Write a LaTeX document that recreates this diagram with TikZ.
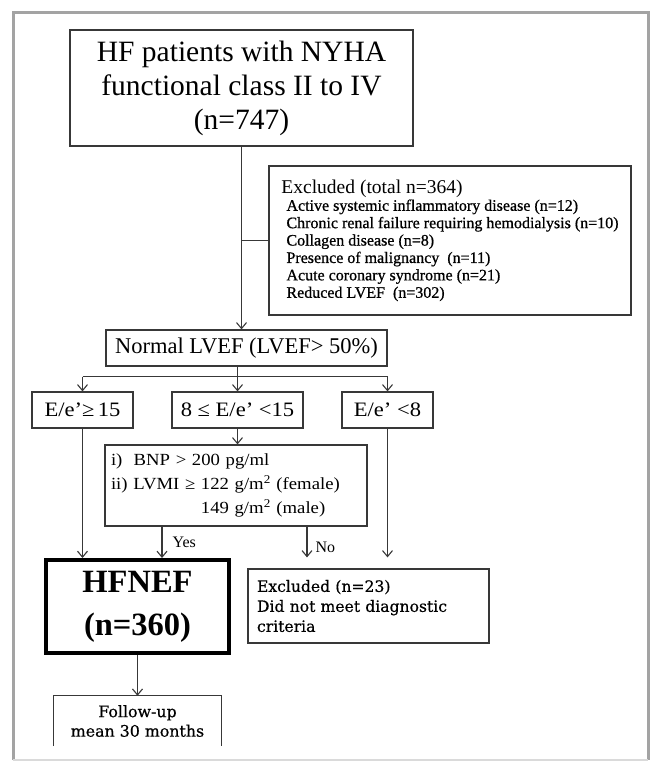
\documentclass[tikz,border=0pt]{standalone}
\usepackage{fontspec}
\setmainfont{Liberation Serif}
\newfontfamily\cent[FakeBold=0.5]{DejaVu Serif}
\newfontfamily\tmsB[FakeStretch=1.1]{Liberation Serif}
\newfontfamily\tmsE[FakeBold=0.8]{Liberation Serif}
\usetikzlibrary{arrows.meta}
\definecolor{linec}{HTML}{383838}
\definecolor{framec}{HTML}{A3A3A3}
\begin{document}
\begin{tikzpicture}[x=1pt,y=-1pt,
  box/.style={draw=linec, line width=1.2pt, rectangle, inner sep=0pt, align=center},
  arr/.style={draw=linec, line width=1.1pt, -{Straight Barb[length=6pt,width=10pt,line width=1.1pt]}},
  ln/.style={draw=linec, line width=1.1pt},
  lbl/.style={font=\fontsize{16}{18}\selectfont, inner sep=0pt, anchor=west, xshift=10pt}]
\useasboundingbox (0,0) rectangle (651,762);
\draw[framec, line width=3pt] (13,760) -- (13,13) -- (648,13) -- (648,760);
\draw[framec!40, line width=1.5pt] (13,760) -- (648,760);

\node[box, minimum width=343pt, minimum height=116pt, font=\fontsize{29.5}{34}\selectfont] (T) at (241.5,88)
  {HF patients with NYHA\\functional class II to IV\\(n=747)};

\node[box, minimum width=362pt, minimum height=149pt, align=left,
  font=\tmsE\fontsize{16}{17.4}\selectfont] (X) at (450,240.5)
  {{\rmfamily\fontsize{19.5}{22}\selectfont Excluded (total n=364)}\\
   \hspace*{5pt}Active systemic inflammatory disease (n=12)\\
   \hspace*{5pt}Chronic renal failure requiring hemodialysis (n=10)\\
   \hspace*{5pt}Collagen disease (n=8)\\
   \hspace*{5pt}Presence of malignancy\ \ (n=11)\\
   \hspace*{5pt}Acute coronary syndrome (n=21)\\
   \hspace*{5pt}Reduced LVEF\ \ (n=302)};

\node[box, minimum width=281pt, minimum height=36pt, font=\fontsize{22.5}{24}\selectfont] (N) at (246.5,348)
  {Normal LVEF (LVEF> 50\%)};

\node[box, minimum width=101pt, minimum height=36pt, font=\tmsB\fontsize{20.5}{22}\selectfont] (A) at (82.5,410) {E/e’≥\,15};
\node[box, minimum width=131pt, minimum height=36pt, font=\tmsB\fontsize{20.5}{22}\selectfont] (B) at (237.5,410) {8 ≤ E/e’ <15};
\node[box, minimum width=91pt, minimum height=36pt, font=\tmsB\fontsize{20.5}{22}\selectfont] (R) at (387.5,410) {E/e’ <8};

\node[box, minimum width=262pt, minimum height=81pt, text width=250pt, inner xsep=6pt, align=left,
  font=\tmsB\fontsize{17}{24}\selectfont] (Q) at (236,485.5)
  {i)\ \ BNP > 200 pg/ml\\
   ii) LVMI ≥ 122 g/m\textsuperscript{2} (female)\\
   \phantom{ii) LVMI ≥ }149 g/m\textsuperscript{2} (male)};

\node[box, draw=black, line width=4pt, minimum width=183pt, minimum height=93pt,
  font=\bfseries\fontsize{32.5}{43}\selectfont] (H) at (137.5,606.5) {HFNEF\\(n=360)};

\node[box, minimum width=241pt, minimum height=74pt, text width=223pt, inner xsep=9pt, align=left,
  font=\cent\fontsize{15.6}{20}\selectfont] (E) at (368.5,606)
  {Excluded (n=23)\\Did not meet diagnostic\\criteria};

\node[inner sep=0pt, minimum width=168pt, minimum height=50pt, align=center,
  font=\cent\fontsize{15.8}{19.5}\selectfont] (F) at (137.5,721) {Follow-up\\mean 30 months};
\draw[ln] (F.south west) -- (F.north west) -- (F.north east) -- (F.south east);

% connectors
\draw[arr] (T.south) -- (T.south |- N.north);
\draw[ln] (X.west) -- (X.west -| T.south);
\draw[arr] (N.south -| B.north) -- (B.north);
\path (N.south) ++(0,10) coordinate (nb);
\draw[ln] (nb -| A.north) -- (nb -| R.north);
\draw[arr] (nb -| A.north) -- (A.north);
\draw[arr] (nb -| R.north) -- (R.north);
\draw[arr] (B.south) -- (B.south |- Q.north);
\draw[arr] (A.south) -- (A.south |- H.north);
\coordinate (yx) at (162,0);
\coordinate (nx) at (307,0);
\draw[arr] (Q.south -| yx) -- node[lbl] {Yes} (H.north -| yx);
\draw[arr, shorten >=11pt] (Q.south -| nx) -- node[lbl, xshift=-2pt] {No} (E.north -| nx);
\draw[arr, shorten >=11pt] (R.south) -- (R.south |- E.north);
\draw[arr] (H.south) -- (F.north);
\end{tikzpicture}
\end{document}
